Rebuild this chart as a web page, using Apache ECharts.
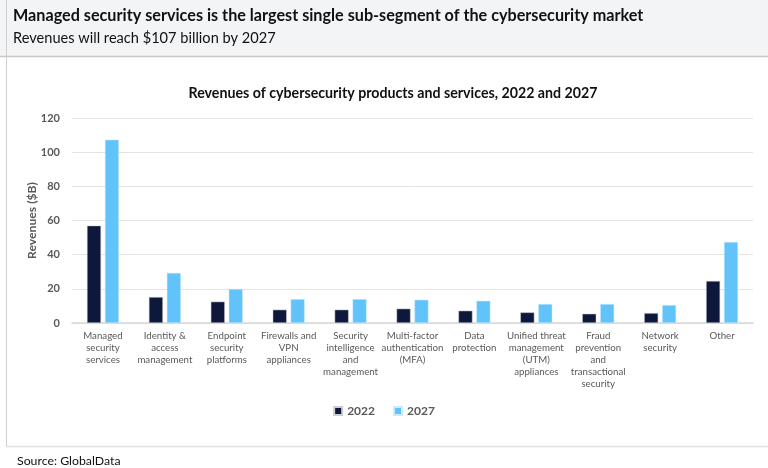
<!DOCTYPE html>
<html>
<head>
<meta charset="utf-8">
<script src="https://cdn.jsdelivr.net/npm/echarts@6/dist/echarts.min.js"></script>
<style>
html,body{margin:0;padding:0;background:#fff;}
#c{width:768px;height:468px;}
</style>
</head>
<body>
<div id="c"></div>
<script>
const categories = [
  "Managed\nsecurity\nservices",
  "Identity &\naccess\nmanagement",
  "Endpoint\nsecurity\nplatforms",
  "Firewalls and\nVPN\nappliances",
  "Security\nintelligence\nand\nmanagement",
  "Multi-factor\nauthentication\n(MFA)",
  "Data\nprotection",
  "Unified threat\nmanagement\n(UTM)\nappliances",
  "Fraud\nprevention\nand\ntransactional\nsecurity",
  "Network\nsecurity",
  "Other"
];
const values2022 = [57.0, 15.2, 12.5, 7.8, 7.8, 8.4, 7.2, 6.2, 5.4, 5.8, 24.6];
const values2027 = [107.3, 29.3, 19.9, 14.0, 14.0, 13.6, 13.0, 11.1, 11.1, 10.5, 47.4];
const seriesNames = ["2022", "2027"];
const yTicks = [0, 20, 40, 60, 80, 100, 120];

const FONT = 'Lato, "Noto Sans", sans-serif';
const chart = echarts.init(document.getElementById('c'));
chart.setOption({
  animation: false,
  textStyle: { fontFamily: FONT },
  graphic: [
    { type: 'rect', shape: { x: 0, y: 0, width: 768, height: 56 }, style: { fill: '#f3f4f6' }, silent: true },
    { type: 'line', shape: { x1: 0, y1: 56.5, x2: 768, y2: 56.5 }, style: { stroke: '#c8c8c8', lineWidth: 1.5 } },
    { type: 'line', shape: { x1: 6.5, y1: 0, x2: 6.5, y2: 447 }, style: { stroke: '#d0d0d0', lineWidth: 1 } },
    { type: 'line', shape: { x1: 6, y1: 446.5, x2: 768, y2: 446.5 }, style: { stroke: '#e0e0e0', lineWidth: 1.5 } },
    { type: 'text', left: 13, top: 8, style: { text: 'Managed security services is the largest single sub-segment of the cybersecurity market', font: 'bold 16.2px ' + FONT, fill: '#111' } },
    { type: 'text', left: 13, top: 31, style: { text: 'Revenues will reach $107 billion by 2027', font: '14.6px ' + FONT, fill: '#111' } },
    { type: 'text', left: 17, top: 455, style: { text: 'Source: GlobalData', font: '12.3px ' + FONT, fill: '#111' } }
  ],
  title: {
    text: 'Revenues of cybersecurity products and services, 2022 and 2027',
    left: 388, textAlign: 'center', top: 81,
    textStyle: { fontSize: 14.2, fontWeight: 'bold', color: '#111', fontFamily: FONT }
  },
  legend: {
    data: seriesNames,
    left: 'center', top: 400,
    itemWidth: 8, itemHeight: 8, itemGap: 18,
    icon: 'rect',
    textStyle: { fontSize: 12, fontWeight: 'bold', color: '#595959', fontFamily: FONT }
  },
  grid: { left: 72, right: 15, top: 118, bottom: 145 },
  xAxis: {
    type: 'category',
    data: categories,
    axisTick: { show: false },
    axisLine: { lineStyle: { color: '#d9d9d9', width: 1.5 } },
    axisLabel: { interval: 0, fontSize: 9.7, color: '#595959', lineHeight: 12, margin: 7, fontFamily: FONT }
  },
  yAxis: {
    type: 'value',
    min: 0, max: 120, interval: 20,
    name: 'Revenues ($B)',
    nameLocation: 'middle', nameGap: 34, nameRotate: 90, nameMoveOverlap: false,
    nameTextStyle: { fontSize: 12.2, fontWeight: 'bold', color: '#595959', fontFamily: FONT },
    axisLine: { show: false },
    axisTick: { show: false },
    splitLine: { lineStyle: { color: '#e3e3e3', width: 1 } },
    axisLabel: { fontSize: 11, fontWeight: 'bold', color: '#595959', margin: 12, fontFamily: FONT,
      formatter: v => yTicks.includes(v) ? String(v) : '' }
  },
  series: [
    { name: seriesNames[0], type: 'bar', data: values2022, barWidth: 14, barGap: '28%',
      itemStyle: { color: '#0e183b', borderColor: '#c9cdd6', borderWidth: 0.5 } },
    { name: seriesNames[1], type: 'bar', data: values2027, barWidth: 14,
      itemStyle: { color: '#62c3fb', borderColor: '#c9ebff', borderWidth: 0.5 } }
  ]
});
</script>
</body>
</html>
